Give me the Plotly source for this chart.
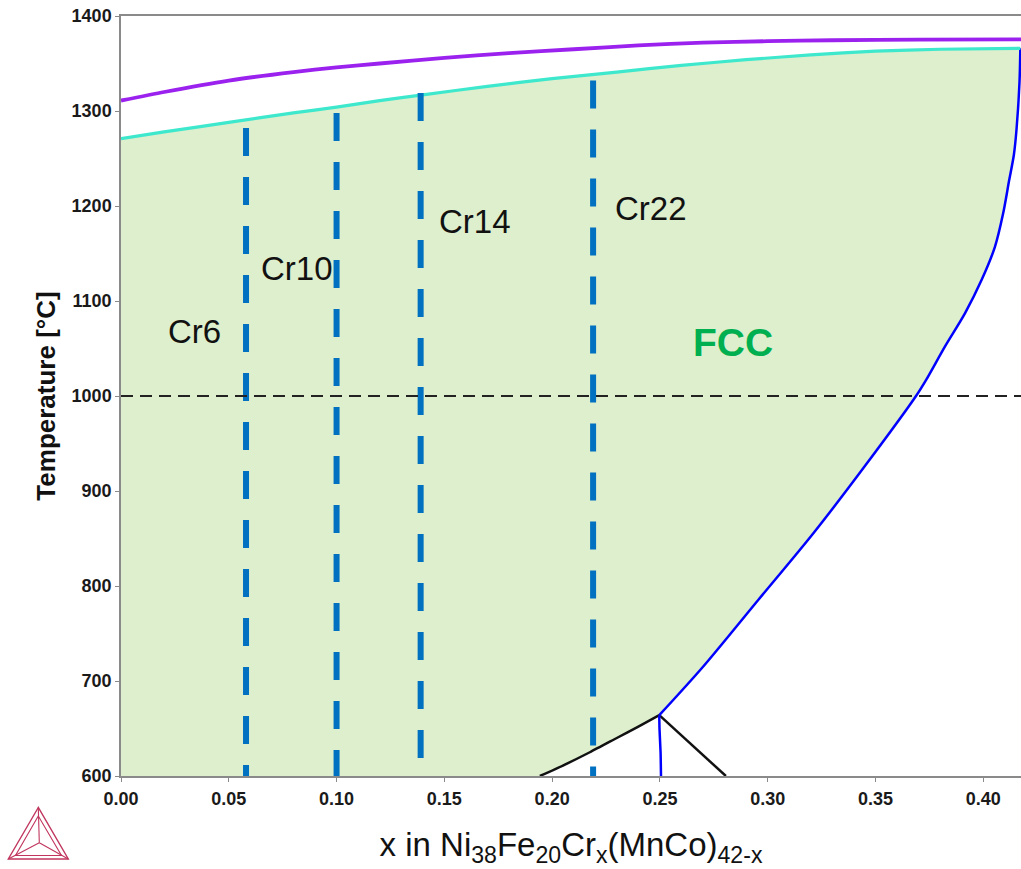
import plotly.graph_objects as go

# ---------------- data ----------------
# Liquidus (purple)
liq_x = [0.0, 0.02, 0.05, 0.08, 0.10, 0.12, 0.15, 0.18, 0.21, 0.24, 0.27, 0.30, 0.33, 0.37, 0.4175]
liq_T = [1311, 1320, 1332, 1341, 1346, 1350, 1356, 1361, 1365, 1369, 1372, 1373.5, 1374.5, 1375.2, 1375.5]

# Solidus (turquoise)
sol_x = [0.0, 0.02, 0.05, 0.08, 0.10, 0.12, 0.14, 0.17, 0.20, 0.23, 0.26, 0.29, 0.32, 0.35, 0.38, 0.4172]
sol_T = [1271, 1278, 1288, 1298, 1304, 1311, 1317, 1326, 1334, 1341, 1348, 1354, 1359, 1363, 1365, 1366]

# FCC solvus (blue), from top to the invariant point
solv_x = [0.4172, 0.4168, 0.4154, 0.4142, 0.4120, 0.4092, 0.4054, 0.3992, 0.3915, 0.3822,
          0.3735, 0.3688, 0.3450, 0.3210, 0.2955, 0.2700, 0.2497]
solv_T = [1366, 1330, 1280, 1254, 1227, 1192, 1157, 1122, 1087, 1052,
          1017, 1000, 926, 855, 785, 715, 664]

# Lower boundary of FCC (black, left)
low_x = [0.2497, 0.240, 0.230, 0.2175, 0.205, 0.1943]
low_T = [664, 652, 640, 625, 611, 600]

# Black line to the right of the invariant point
rb_x = [0.2497, 0.265, 0.2806]
rb_T = [664, 632, 600]

# Short blue line below the invariant point
bb_x = [0.2497, 0.2498, 0.2503, 0.2505]
bb_T = [664, 650, 625, 600]

# Alloy composition lines
alloy_names = ["Cr6", "Cr10", "Cr14", "Cr22"]
alloy_x = [0.058, 0.100, 0.139, 0.219]
alloy_top = [1282, 1298, 1319, 1332]
label_x = [0.0341, 0.0815, 0.1642, 0.2460]
label_T = [1068, 1134, 1184, 1197]

T_ref = 1000
x_min, x_max = 0.0, 0.4175
T_min, T_max = 600, 1400
x_ticks = [0.00, 0.05, 0.10, 0.15, 0.20, 0.25, 0.30, 0.35, 0.40]
T_ticks = [600, 700, 800, 900, 1000, 1100, 1200, 1300, 1400]

FONT = "Liberation Sans, Arial, sans-serif"

fig = go.Figure()

# FCC region fill
fill_x = [x_min] + sol_x + solv_x[1:] + low_x[1:] + [x_min]
fill_T = [T_min] + sol_T + solv_T[1:] + low_T[1:] + [T_min]
fig.add_trace(go.Scatter(x=fill_x, y=fill_T, mode="lines", fill="toself",
                         fillcolor="#deefcd", line=dict(width=0, color="#deefcd"),
                         hoverinfo="skip", showlegend=False))

# Phase boundaries
fig.add_trace(go.Scatter(x=low_x, y=low_T, mode="lines",
                         line=dict(color="#111111", width=2.5, shape="spline", smoothing=0.6),
                         showlegend=False))
fig.add_trace(go.Scatter(x=rb_x, y=rb_T, mode="lines",
                         line=dict(color="#111111", width=2.5), showlegend=False))
fig.add_trace(go.Scatter(x=bb_x, y=bb_T, mode="lines",
                         line=dict(color="#0000ff", width=2.5, shape="spline", smoothing=0.6),
                         showlegend=False))
fig.add_trace(go.Scatter(x=solv_x, y=solv_T, mode="lines",
                         line=dict(color="#0000ff", width=2.5, shape="spline", smoothing=0.8),
                         showlegend=False))
fig.add_trace(go.Scatter(x=sol_x, y=sol_T, mode="lines",
                         line=dict(color="#3ee8cc", width=3.2, shape="spline", smoothing=0.6),
                         showlegend=False))
fig.add_trace(go.Scatter(x=liq_x, y=liq_T, mode="lines",
                         line=dict(color="#9b22ee", width=3.8, shape="spline", smoothing=0.6),
                         showlegend=False))

# Alloy lines (dashed blue, vertical)
for ax, top in zip(alloy_x, alloy_top):
    fig.add_trace(go.Scatter(x=[ax, ax], y=[top, T_min], mode="lines",
                             line=dict(color="#0070c0", width=6, dash="28px,21px"),
                             showlegend=False, hoverinfo="skip"))

# Horizontal dashed reference line
fig.add_trace(go.Scatter(x=[x_min, x_max], y=[T_ref, T_ref], mode="lines",
                         line=dict(color="#222222", width=2, dash="12px,7px"),
                         showlegend=False, hoverinfo="skip"))

annotations = []
for name, lx, lt in zip(alloy_names, label_x, label_T):
    annotations.append(dict(x=lx, y=lt, xref="x", yref="y", text=name, showarrow=False,
                            font=dict(family=FONT, size=33, color="#111111"),
                            xanchor="center", yanchor="middle"))
annotations.append(dict(x=0.2839, y=1056, xref="x", yref="y", text="FCC", showarrow=False,
                        font=dict(family=FONT, size=39, color="#00b050", weight="bold"),
                        xanchor="center", yanchor="middle"))

FIG_W, FIG_H = 1021, 869
M_L, M_T, M_R = 121, 16, 0
PLOT_W, PLOT_H = 900, 760
M_B = FIG_H - M_T - PLOT_H

# Thermo-Calc style logo (decoration), pixel -> paper conversion
def pp(px, py):
    return (px - M_L) / PLOT_W, (M_T + PLOT_H - py) / PLOT_H

def path(points, close=True):
    s = ""
    for i, (px, py) in enumerate(points):
        x, y = pp(px, py)
        s += ("M" if i == 0 else "L") + f"{x:.5f},{y:.5f} "
    return s + ("Z" if close else "")

logo_col = "#c0365e"
shapes = []
outer = [(38.3, 807.5), (8.3, 859), (68.3, 859)]
inner = [(38.3, 816), (15.5, 855.5), (61.5, 855.5)]
center = (39.3, 842.7)
shapes.append(dict(type="path", xref="paper", yref="paper", path=path(outer),
                   line=dict(color=logo_col, width=1.4)))
shapes.append(dict(type="path", xref="paper", yref="paper", path=path(inner),
                   line=dict(color=logo_col, width=1.1)))
for v in outer:
    shapes.append(dict(type="path", xref="paper", yref="paper", path=path([center, v], close=False),
                       line=dict(color=logo_col, width=1.1)))

fig.update_layout(
    width=FIG_W, height=FIG_H,
    margin=dict(l=M_L, r=M_R, t=M_T, b=M_B, pad=0),
    paper_bgcolor="white", plot_bgcolor="white",
    showlegend=False,
    annotations=annotations,
    shapes=shapes,
    xaxis=dict(range=[x_min, x_max], tickvals=x_ticks, tickformat=".2f", automargin=False,
               showgrid=False, zeroline=False, showline=True, linecolor="#8a8a8a",
               linewidth=1.5, mirror=True, ticks="outside", ticklen=4, tickcolor="#8a8a8a",
               ticklabelstandoff=2,
               tickfont=dict(family=FONT, size=18, color="#1a1a1a", weight="bold"),
               title=dict(text="x in Ni<sub>38</sub>Fe<sub>20</sub>Cr<sub>x</sub>(MnCo)<sub>42-x</sub>",
                          font=dict(family=FONT, size=33, color="#111111"), standoff=25)),
    yaxis=dict(range=[T_min, T_max], tickvals=T_ticks, automargin=False,
               showgrid=False, zeroline=False, showline=True, linecolor="#8a8a8a",
               linewidth=1.5, mirror=False, ticks="outside", ticklen=4, tickcolor="#8a8a8a",
               tickfont=dict(family=FONT, size=18, color="#1a1a1a", weight="bold"),
               title=dict(text="Temperature [°C]",
                          font=dict(family=FONT, size=26, color="#111111", weight="bold"),
                          standoff=9)),
)

# Remove the default page margin so the figure sits at the window origin
fig.write_html("out.html",
               config={"displayModeBar": False},
               post_script="document.body.style.margin='0';document.body.style.overflow='hidden';")
